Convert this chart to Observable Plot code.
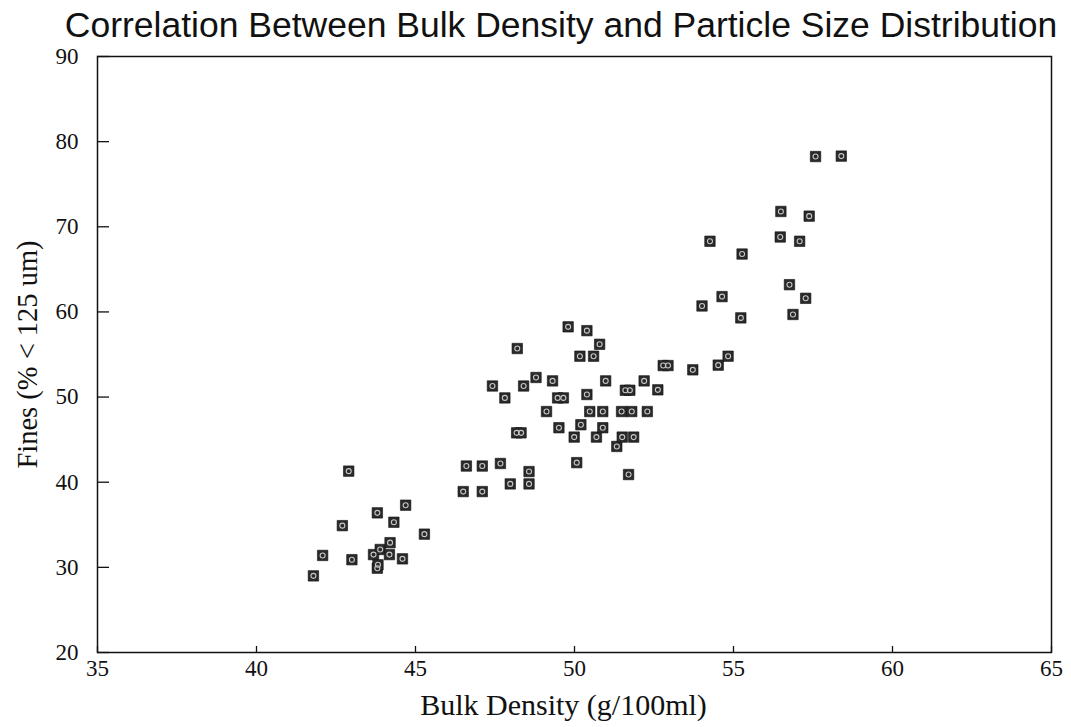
<!DOCTYPE html>
<html>
<head>
<meta charset="utf-8">
<script src="https://cdn.jsdelivr.net/npm/d3@7"></script>
<script src="https://cdn.jsdelivr.net/npm/@observablehq/plot@0.6"></script>
<style>
  html, body { margin: 0; padding: 0; background: #fff; }
  #wrap { position: relative; width: 1071px; height: 727px; overflow: hidden; }
  #title { position: absolute; left: 0; top: 8px; width: 1122px; text-align: center;
           font-family: "Liberation Sans", Arial, sans-serif; font-size: 35.5px; line-height: 35px; color: #111; white-space: nowrap; }
  #chart { position: absolute; left: 0; top: 0; }
</style>
</head>
<body>
<div id="wrap">
  <div id="chart"></div>
  <div id="title">Correlation Between Bulk Density and Particle Size Distribution</div>
</div>
<script>
const titleText = "Correlation Between Bulk Density and Particle Size Distribution";
const xLabel = "Bulk Density (g/100ml)";
const yLabel = "Fines (% < 125 um)";
const xTicks = [35, 40, 45, 50, 55, 60, 65];
const yTicks = [20, 30, 40, 50, 60, 70, 80, 90];

const bulkDensity = [
  41.79, 42.08, 42.70, 42.90, 43.00, 43.68, 43.80, 43.82, 43.80, 43.89,
  44.18, 44.20, 44.32, 44.59, 44.69, 45.28, 46.50, 46.60, 47.10, 47.10,
  47.42, 47.67, 47.81, 47.98, 48.20, 48.18, 48.32, 48.40, 48.57, 48.57,
  48.79, 49.12, 49.31, 49.47, 49.65, 49.51, 49.80, 49.99, 50.07, 50.17,
  50.20, 50.39, 50.39, 50.48, 50.60, 50.69, 50.79, 50.89, 50.89, 50.98,
  51.33, 51.48, 51.50, 51.60, 51.74, 51.70, 51.80, 51.86, 52.19, 52.29,
  52.62, 52.79, 52.94, 53.72, 54.01, 54.26, 54.52, 54.64, 54.83, 55.23,
  55.27, 56.47, 56.49, 56.76, 56.87, 57.08, 57.27, 57.38, 57.58, 58.39
];
const fines = [
  29.0, 31.4, 34.9, 41.3, 30.9, 31.5, 29.9, 30.3, 36.4, 32.1,
  31.5, 32.9, 35.3, 31.0, 37.3, 33.9, 38.9, 41.9, 41.9, 38.9,
  51.3, 42.2, 49.9, 39.8, 55.7, 45.8, 45.8, 51.3, 41.25, 39.8,
  52.3, 48.3, 51.9, 49.9, 49.9, 46.4, 58.25, 45.3, 42.3, 54.8,
  46.75, 57.8, 50.3, 48.3, 54.8, 45.3, 56.2, 48.3, 46.4, 51.9,
  44.2, 48.3, 45.3, 50.8, 50.8, 40.9, 48.3, 45.3, 51.9, 48.3,
  50.85, 53.7, 53.7, 53.2, 60.7, 68.3, 53.75, 61.8, 54.8, 59.3,
  66.8, 68.8, 71.8, 63.2, 59.7, 68.3, 61.6, 71.25, 78.25, 78.3
];

const data = bulkDensity.map((b, i) => ({bulk: b, fines: fines[i]}));

const W = 1071, H = 727;
const mL = 97, mR = 20, mT = 56, mB = 75;
const plotW = W - mL - mR, plotH = H - mT - mB;
const serif = "'Liberation Serif', 'Times New Roman', serif";

const chart = Plot.plot({
  width: W,
  height: H,
  marginLeft: mL,
  marginRight: mR,
  marginTop: mT,
  marginBottom: mB,
  style: {background: "#fff", color: "#111", fontFamily: serif},
  x: {domain: [35, 65], ticks: xTicks},
  y: {domain: [20, 90], ticks: yTicks},
  marks: [
    Plot.frame({stroke: "#111", strokeWidth: 1.5}),
    Plot.axisY(yTicks, {tickSize: 0, tickPadding: 19, fontSize: 23, fontFamily: serif, label: null}),
    Plot.axisX(xTicks, {tickSize: 0, tickPadding: 7, fontSize: 23, fontFamily: serif, label: null}),
    Plot.tickY(yTicks, {y: d => d, stroke: "#111", strokeWidth: 1.3, insetRight: plotW - 12}),
    Plot.tickX(xTicks, {x: d => d, stroke: "#111", strokeWidth: 1.3, insetTop: plotH - 6}),
    Plot.dot(data, {x: "bulk", y: "fines", symbol: "square", r: 5.9, fill: "#2a2a2a", stroke: "#111", strokeWidth: 0.6}),
    Plot.dot(data, {x: "bulk", y: "fines", r: 2.5, fill: "none", stroke: "#c8c8c8", strokeWidth: 1.1}),
    Plot.text([xLabel], {frameAnchor: "bottom", dx: -11, dy: 53, fontSize: 30, fontFamily: serif, fill: "#111", lineAnchor: "middle"}),
    Plot.text([yLabel], {frameAnchor: "left", dx: -70, rotate: -90, textAnchor: "middle", fontSize: 28.5, fontFamily: serif, fill: "#111", lineAnchor: "middle"})
  ]
});
document.getElementById("chart").appendChild(chart);
</script>
</body>
</html>
